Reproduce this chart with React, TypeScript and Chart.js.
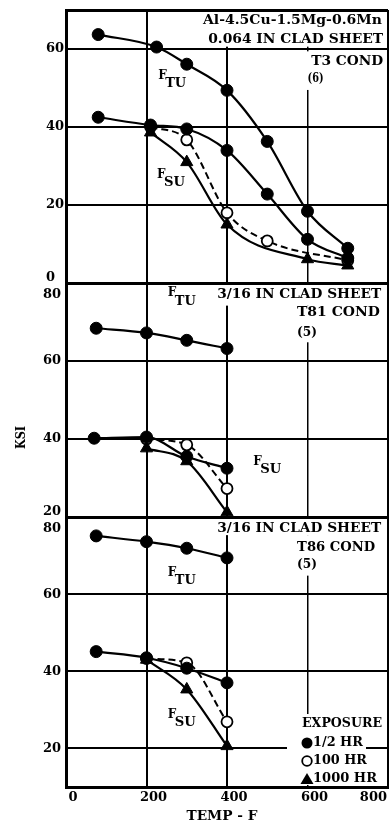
import React, { useEffect, useRef } from 'react';
import { Chart, registerables } from 'chart.js';

Chart.register(...registerables);

// ---------------- data ----------------
const TEMP_TICKS = [0, 200, 400, 600, 800];
const KSI_TICKS_T3 = [0, 20, 40, 60];
const KSI_TICKS_T81 = [20, 40, 60, 80];
const KSI_TICKS_T86 = [20, 40, 60, 80];

// Panel 1: 0.064 in clad sheet, T3 cond
const T3_FTU_TEMP = [80, 225, 300, 400, 500, 600, 700];
const T3_FTU_HALF = [63.7, 60.5, 56.1, 49.4, 36.3, 18.4, 8.9];
const T3_FSU_TEMP = [80, 210, 300, 400, 500, 600, 700];
const T3_FSU_HALF = [42.5, 40.5, 39.5, 34.0, 22.8, 11.2, 6.4];
const T3_FSU_100_TEMP = [210, 300, 400, 500, 700];
const T3_FSU_100 = [40.0, 36.7, 18.0, 10.8, 5.8];
const T3_FSU_1000_TEMP = [210, 300, 400, 600, 700];
const T3_FSU_1000 = [38.6, 31.0, 15.0, 6.1, 4.5];

// Panel 2: 3/16 in clad sheet, T81 cond
const T81_FTU_TEMP = [75, 200, 300, 400];
const T81_FTU_HALF = [68.4, 67.2, 65.3, 63.2];
const T81_FSU_TEMP = [70, 200, 300, 400];
const T81_FSU_HALF = [40.2, 40.5, 35.5, 32.5];
const T81_FSU_100_TEMP = [200, 300, 400];
const T81_FSU_100 = [40.0, 38.5, 27.3];
const T81_FSU_1000_TEMP = [200, 300, 400];
const T81_FSU_1000 = [37.6, 34.3, 21.2];

// Panel 3: 3/16 in clad sheet, T86 cond
const T86_FTU_TEMP = [75, 200, 300, 400];
const T86_FTU_HALF = [75.1, 73.6, 71.9, 69.4];
const T86_FSU_TEMP = [75, 200, 300, 400];
const T86_FSU_HALF = [45.1, 43.5, 40.8, 37.0];
const T86_FSU_100_TEMP = [200, 300, 400];
const T86_FSU_100 = [43.3, 42.2, 26.9];
const T86_FSU_1000_TEMP = [200, 300, 400];
const T86_FSU_1000 = [43.0, 35.3, 20.6];

const T3_NOTES = ['Al-4.5Cu-1.5Mg-0.6Mn', '0.064 IN CLAD SHEET', 'T3 COND', '(6)'];
const T81_NOTES = ['3/16 IN CLAD SHEET', 'T81 COND', '(5)'];
const T86_NOTES = ['3/16 IN CLAD SHEET', 'T86 COND', '(5)'];
const LEGEND_TITLE = 'EXPOSURE';
const SERIES_LABELS = ['1/2 HR', '100 HR', '1000 HR'];
const X_TITLE = 'TEMP - F';
const Y_TITLE = 'KSI';

// ---------------- helpers ----------------
const FONT = '"DejaVu Serif", "Liberation Serif", serif';

type TxtOpts = { align?: 'left' | 'right' | 'center'; size?: number; weight?: string; width?: number };

function txt(ctx: CanvasRenderingContext2D, s: string, x: number, y: number, o: TxtOpts = {}) {
  const size = o.size ?? 12;
  ctx.save();
  ctx.font = `${o.weight ?? 'bold'} ${size}px ${FONT}`;
  const w = ctx.measureText(s).width;
  const sx = o.width ? o.width / w : 1;
  const ww = w * sx;
  const align = o.align ?? 'left';
  const left = align === 'left' ? x : align === 'right' ? x - ww : x - ww / 2;
  ctx.translate(left, y);
  ctx.scale(sx, 1);
  ctx.textAlign = 'left';
  ctx.textBaseline = 'middle';
  ctx.fillStyle = '#000';
  ctx.fillText(s, 0, 0);
  ctx.restore();
}

const pts = (xs: number[], ys: number[]) => xs.map((x, i) => ({ x, y: ys[i] }));

const solidFilled = (xs: number[], ys: number[], axis: string, label: string) => ({
  label,
  data: pts(xs, ys),
  yAxisID: axis,
  xAxisID: 'x',
  borderColor: '#000',
  borderWidth: 2.2,
  pointStyle: 'circle',
  pointRadius: 6,
  pointBackgroundColor: '#000',
  pointBorderColor: '#000',
  pointBorderWidth: 1,
  cubicInterpolationMode: 'monotone',
  fill: false,
});

const openDashed = (xs: number[], ys: number[], axis: string, label: string) => ({
  label,
  data: pts(xs, ys),
  yAxisID: axis,
  xAxisID: 'x',
  borderColor: '#000',
  borderWidth: 2,
  borderDash: [7, 4],
  pointStyle: 'circle',
  pointRadius: 5.5,
  pointBackgroundColor: '#fff',
  pointBorderColor: '#000',
  pointBorderWidth: 1.8,
  cubicInterpolationMode: 'monotone',
  fill: false,
});

const triSolid = (xs: number[], ys: number[], axis: string, label: string) => ({
  label,
  data: pts(xs, ys),
  yAxisID: axis,
  xAxisID: 'x',
  borderColor: '#000',
  borderWidth: 2.2,
  pointStyle: 'triangle',
  pointRadius: 7,
  pointBackgroundColor: '#000',
  pointBorderColor: '#000',
  pointBorderWidth: 1,
  cubicInterpolationMode: 'monotone',
  fill: false,
});

const yScale = (min: number, max: number, weight: number, stackWeight: number) => ({
  type: 'linear',
  position: 'left',
  stack: 'ksi',
  stackWeight,
  weight,
  min,
  max,
  ticks: { display: false, stepSize: 20 },
  grid: {
    color: '#000',
    drawTicks: false,
    lineWidth: (c: any) => (c.tick && (c.tick.value === min || c.tick.value === max) ? 3 : 2),
  },
  border: { display: true, color: '#000', width: 3 },
  afterFit: (s: any) => {
    s.width = 66;
  },
});

const textPlugin = {
  id: 'panelText',
  beforeDatasetsDraw(chart: any) {
    const { ctx, chartArea: a, scales } = chart;
    const x = scales.x;
    ctx.save();
    ctx.fillStyle = '#fff';
    const rect = (axis: string, t0: number, t1: number, k0: number, k1: number) => {
      const y = scales[axis];
      const L = Math.max(x.getPixelForValue(t0), a.left + 2);
      const R = Math.min(x.getPixelForValue(t1), a.right - 2);
      const T = Math.max(y.getPixelForValue(k1), y.top + 2);
      const B = Math.min(y.getPixelForValue(k0), y.bottom - 2);
      ctx.fillRect(L, T, R - L, B - T);
    };
    rect('yT3', 335, 800, 60.6, 70);
    rect('yT3', 580, 800, 49.5, 59.4);
    rect('yT81', 365, 800, 74.2, 80);
    rect('yT81', 570, 800, 64.8, 74.2);
    rect('yT86', 365, 800, 75.3, 80);
    rect('yT86', 570, 800, 64.8, 75.3);
    // legend background
    const lx = a.right - 101;
    const ly = a.bottom - 73;
    ctx.fillRect(lx, ly, a.right - 2 - lx, 19);
    ctx.fillRect(lx, ly + 19, 79, 19);
    ctx.fillRect(lx, ly + 38, a.right - 2 - lx, a.bottom - 2 - (ly + 38));
    ctx.restore();
  },
  afterDatasetsDraw(chart: any) {
    const { ctx, chartArea: a, scales } = chart;
    const x = scales.x;
    const at = (axis: string, t: number, k: number) => [x.getPixelForValue(t), scales[axis].getPixelForValue(k)];

    // y tick labels
    const yLabels = (axis: string, ticks: number[], inset: number) => {
      const s = scales[axis];
      for (const v of ticks) {
        let py = s.getPixelForValue(v);
        if (v === s.min) py -= 5;
        if (v === s.max) py += 12;
        txt(ctx, String(v), a.left - inset, py, { align: 'left', size: 13 });
      }
    };
    yLabels('yT3', KSI_TICKS_T3, 20);
    yLabels('yT81', KSI_TICKS_T81, 23);
    yLabels('yT86', KSI_TICKS_T86, 23);

    // x tick labels
    for (const v of TEMP_TICKS) {
      const px = x.getPixelForValue(v);
      if (v === x.max) txt(ctx, String(v), px - 1, a.bottom + 11, { align: 'right', size: 13 });
      else txt(ctx, String(v), px + 7, a.bottom + 11, { align: 'center', size: 13 });
    }
    txt(ctx, X_TITLE, (a.left + a.right) / 2 - 5, a.bottom + 30, { align: 'center', size: 13, width: 71 });

    ctx.save();
    ctx.translate(22, (a.top + a.bottom) / 2 + 39);
    ctx.rotate(-Math.PI / 2);
    txt(ctx, Y_TITLE, 0, 0, { align: 'center', size: 13, width: 23 });
    ctx.restore();

    // panel notes
    let p = at('yT3', 785, 67.2); txt(ctx, T3_NOTES[0], p[0], p[1], { align: 'right', size: 13, width: 179 });
    p = at('yT3', 788, 62.3); txt(ctx, T3_NOTES[1], p[0], p[1], { align: 'right', size: 13, width: 175 });
    p = at('yT3', 788, 56.7); txt(ctx, T3_NOTES[2], p[0], p[1], { align: 'right', size: 13, width: 72 });
    p = at('yT3', 620, 52.3); txt(ctx, T3_NOTES[3], p[0], p[1], { align: 'center', size: 13, width: 16 });

    p = at('yT81', 783, 76.9); txt(ctx, T81_NOTES[0], p[0], p[1], { align: 'right', size: 13, width: 164 });
    p = at('yT81', 780, 72.3); txt(ctx, T81_NOTES[1], p[0], p[1], { align: 'right', size: 13, width: 83 });
    p = at('yT81', 599, 67.4); txt(ctx, T81_NOTES[2], p[0], p[1], { align: 'center', size: 13, width: 20 });

    p = at('yT86', 783, 76.9); txt(ctx, T86_NOTES[0], p[0], p[1], { align: 'right', size: 13, width: 164 });
    p = at('yT86', 768, 72.0); txt(ctx, T86_NOTES[1], p[0], p[1], { align: 'right', size: 13, width: 78 });
    p = at('yT86', 599, 67.6); txt(ctx, T86_NOTES[2], p[0], p[1], { align: 'center', size: 13, width: 20 });

    // F labels with subscripts
    const fLabel = (axis: string, t: number, k: number, sub: string) => {
      const q = at(axis, t, k);
      txt(ctx, 'F', q[0], q[1], { align: 'left', size: 12 });
      txt(ctx, sub, q[0] + 7, q[1] + 8, { align: 'left', size: 13, width: 21 });
    };
    fLabel('yT3', 229, 53.1, 'TU');
    fLabel('yT3', 226, 27.7, 'SU');
    fLabel('yT81', 253, 77.4, 'TU');
    fLabel('yT81', 465, 34.1, 'SU');
    fLabel('yT86', 253, 65.5, 'TU');
    fLabel('yT86', 253, 28.7, 'SU');

    // legend
    const lx = a.right - 101;
    txt(ctx, LEGEND_TITLE, lx + 15, a.bottom - 63, { align: 'left', size: 13, width: 80 });
    const mx = lx + 20;
    const rows = [a.bottom - 44, a.bottom - 26, a.bottom - 8];
    ctx.save();
    ctx.fillStyle = '#000';
    ctx.strokeStyle = '#000';
    ctx.beginPath();
    ctx.arc(mx, rows[0], 5.5, 0, Math.PI * 2);
    ctx.fill();
    ctx.beginPath();
    ctx.arc(mx, rows[1], 4.8, 0, Math.PI * 2);
    ctx.fillStyle = '#fff';
    ctx.fill();
    ctx.lineWidth = 1.8;
    ctx.stroke();
    ctx.fillStyle = '#000';
    ctx.beginPath();
    ctx.moveTo(mx, rows[2] - 6);
    ctx.lineTo(mx + 6.5, rows[2] + 5);
    ctx.lineTo(mx - 6.5, rows[2] + 5);
    ctx.closePath();
    ctx.fill();
    ctx.restore();
    txt(ctx, SERIES_LABELS[0], lx + 26, rows[0], { align: 'left', size: 13, width: 50 });
    txt(ctx, SERIES_LABELS[1], lx + 26, rows[1], { align: 'left', size: 13, width: 54 });
    txt(ctx, SERIES_LABELS[2], lx + 26, rows[2], { align: 'left', size: 13, width: 64 });
  },
};

export default function App() {
  const ref = useRef<HTMLCanvasElement>(null);
  useEffect(() => {
    const canvas = ref.current;
    if (!canvas) return;
    const datasets: any[] = [
      solidFilled(T3_FTU_TEMP, T3_FTU_HALF, 'yT3', 'FTU 1/2 HR'),
      solidFilled(T3_FSU_TEMP, T3_FSU_HALF, 'yT3', 'FSU 1/2 HR'),
      solidFilled(T81_FTU_TEMP, T81_FTU_HALF, 'yT81', 'FTU 1/2 HR'),
      solidFilled(T81_FSU_TEMP, T81_FSU_HALF, 'yT81', 'FSU 1/2 HR'),
      solidFilled(T86_FTU_TEMP, T86_FTU_HALF, 'yT86', 'FTU 1/2 HR'),
      solidFilled(T86_FSU_TEMP, T86_FSU_HALF, 'yT86', 'FSU 1/2 HR'),
      triSolid(T3_FSU_1000_TEMP, T3_FSU_1000, 'yT3', 'FSU 1000 HR'),
      triSolid(T81_FSU_1000_TEMP, T81_FSU_1000, 'yT81', 'FSU 1000 HR'),
      triSolid(T86_FSU_1000_TEMP, T86_FSU_1000, 'yT86', 'FSU 1000 HR'),
      openDashed(T3_FSU_100_TEMP, T3_FSU_100, 'yT3', 'FSU 100 HR'),
      openDashed(T81_FSU_100_TEMP, T81_FSU_100, 'yT81', 'FSU 100 HR'),
      openDashed(T86_FSU_100_TEMP, T86_FSU_100, 'yT86', 'FSU 100 HR'),
    ];
    const chart = new Chart(canvas, {
      type: 'line',
      data: { datasets },
      options: {
        animation: false,
        responsive: false,
        devicePixelRatio: 1,
        layout: { autoPadding: false, padding: { top: 10, right: 1, left: 0, bottom: 0 } },
        plugins: { legend: { display: false }, tooltip: { enabled: false } },
        scales: {
          x: {
            type: 'linear',
            position: 'bottom',
            min: 0,
            max: 800,
            ticks: { display: false, stepSize: 200 },
            grid: {
              color: '#000',
              drawTicks: false,
              lineWidth: (c: any) =>
                c.tick && (c.tick.value === 0 || c.tick.value === 800) ? 3 : c.tick && c.tick.value === 600 ? 1.5 : 2,
            },
            border: { display: true, color: '#000', width: 3 },
            afterFit: (s: any) => {
              s.height = 43;
            },
          },
          yT86: yScale(10, 80, 1, 270),
          yT81: yScale(20, 80, 2, 234),
          yT3: yScale(0, 70, 3, 273),
        } as any,
      },
      plugins: [textPlugin],
    } as any);
    return () => chart.destroy();
  }, []);
  return (
    <div style={{ position: 'absolute', left: 0, top: 0, width: 389, height: 830, background: '#fff' }}>
      <canvas ref={ref} width={389} height={830} style={{ display: 'block', width: 389, height: 830 }} />
    </div>
  );
}
